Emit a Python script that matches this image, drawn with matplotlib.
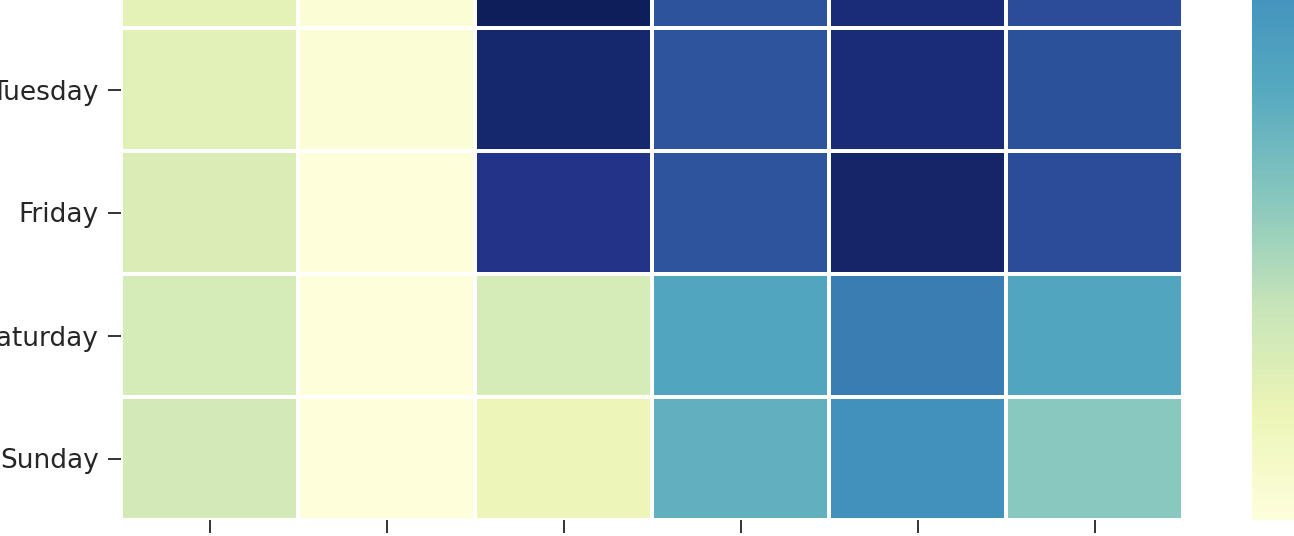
import matplotlib
matplotlib.use("Agg")
import matplotlib.pyplot as plt
import matplotlib.transforms as mtransforms
from matplotlib.colors import LinearSegmentedColormap
import pandas as pd
import seaborn as sns

days = ["Monday", "Wednesday", "Thursday", "Tuesday", "Friday", "Saturday", "Sunday"]
columns = ["A", "B", "C", "D", "E", "F"]
monday = [14, 1, 96, 77, 93, 79]
wednesday = [15, 1, 98, 78, 92, 80]
thursday = [15, 2, 99, 77.5, 92, 79.5]
tuesday = [16, 2, 94.5, 77, 92, 78.5]
friday = [18, 0.3, 87.5, 77, 95.5, 80]
saturday = [20, 0.3, 20, 52, 67, 52]
sunday = [21, 0, 12, 47, 62, 37]

# muted YlGnBu-like palette, as it appears in the reference
palette = ["#fefedb", "#ecf5b6", "#c6e4b9", "#86c6be", "#56a9c0",
           "#4190bd", "#2f5ba2", "#243589", "#0b1d57"]
cmap = LinearSegmentedColormap.from_list("muted_ylgnbu", palette)

df = pd.DataFrame([monday, wednesday, thursday, tuesday, friday, saturday, sunday],
                  index=days, columns=columns)

W, H, DPI = 1294, 536, 100
fig = plt.figure(figsize=(W / DPI, H / DPI), dpi=DPI)

bottom_px = 520
height_px = 861
left_px, right_px = 121.5, 1183
ax = fig.add_axes([left_px / W, (H - bottom_px) / H, (right_px - left_px) / W, height_px / H])
cax = fig.add_axes([1252 / W, (H - bottom_px) / H, 43 / W, height_px / H])

sns.heatmap(df, cmap=cmap, vmin=0, vmax=100, linewidths=1.5, linecolor="white",
            ax=ax, cbar_ax=cax)

ax.set_xticklabels([])
ax.set_xlabel("")
ax.set_ylabel("")
ax.tick_params(axis="both", length=9.5, width=1.4, color="#333333", pad=7,
               labelsize=19, labelcolor="#262626")
shift = mtransforms.ScaledTranslation(0, -3 / DPI, fig.dpi_scale_trans)
for lab in ax.get_yticklabels():
    lab.set_rotation(0)
    lab.set_transform(lab.get_transform() + shift)
cax.tick_params(labelsize=19)

fig.savefig("out.png", dpi=DPI)
